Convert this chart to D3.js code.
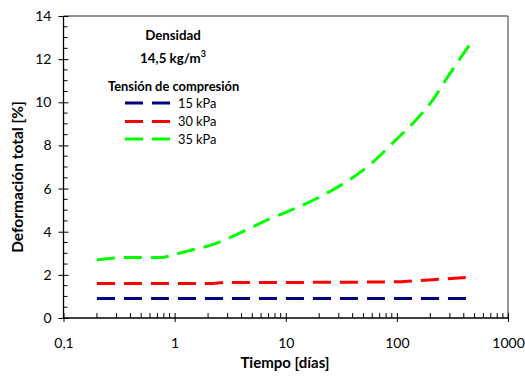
<!DOCTYPE html>
<html><head><meta charset="utf-8">
<script src="https://cdn.jsdelivr.net/npm/d3@7"></script>
<style>body{margin:0;background:#fff}svg{display:block}text{font-family:Lato,"Open Sans",sans-serif;fill:#000}</style>
</head><body><svg id="c" width="525" height="379"></svg>
<script>
const xTickValues = [0.1, 1, 10, 100, 1000];
const xTickLabels = ["0,1", "1", "10", "100", "1000"];
const yTickValues = [0, 2, 4, 6, 8, 10, 12, 14];

const seriesNames = ["15 kPa", "30 kPa", "35 kPa"];
const seriesColors = ["#000080", "#ff0000", "#00ff00"];

const t15 = [0.2, 1, 10, 100, 480];
const v15 = [0.9, 0.9, 0.9, 0.9, 0.9];

const t30 = [0.2, 1, 2, 3, 10, 100, 140, 250, 500];
const v30 = [1.6, 1.6, 1.6, 1.65, 1.65, 1.68, 1.72, 1.8, 1.9];

const t35 = [0.2, 0.35, 0.75, 1, 1.3, 2.2, 4.5, 7.2, 10, 20, 57, 100, 150, 210, 280, 470];
const v35 = [2.7, 2.8, 2.8, 2.95, 3.1, 3.4, 4.1, 4.6, 4.9, 5.6, 7.1, 8.3, 9.2, 10.1, 11.1, 12.8];

const svg = d3.select("#c");
const L = 63.5, R = 508, T = 16, B = 318;
const x = d3.scaleLog().domain([0.1, 1000]).range([L, R]);
const y = d3.scaleLinear().domain([0, 14]).range([B, T]);

// border top/right
svg.append("line").attr("x1", L).attr("x2", R).attr("y1", T).attr("y2", T).attr("stroke", "#222").attr("stroke-width", 1);
svg.append("line").attr("x1", R).attr("x2", R).attr("y1", T).attr("y2", B).attr("stroke", "#777").attr("stroke-width", 1.5);

// minor ticks
const yMinor = d3.range(0, 14.01, 0.5).filter(v => v % 2 !== 0);
svg.append("g").selectAll("line").data(yMinor).join("line")
  .attr("x1", L).attr("x2", L + 4).attr("y1", d => y(d)).attr("y2", d => y(d)).attr("stroke", "#000");
const xMinor = [];
[0.1, 1, 10, 100].forEach(dc => { for (let k = 2; k <= 9; k++) xMinor.push(dc * k); });
svg.append("g").selectAll("line").data(xMinor).join("line")
  .attr("x1", d => x(d)).attr("x2", d => x(d)).attr("y1", B).attr("y2", B - 5).attr("stroke", "#000");

// y axis
const ya = svg.append("g").attr("transform", `translate(${L},0)`)
  .call(d3.axisLeft(y).tickValues(yTickValues).tickSize(5).tickPadding(7).tickFormat(d3.format("d")));
ya.selectAll(".tick line").attr("x2", -5).attr("x1", 5);
ya.select(".domain").attr("d", `M0,${T}V${B}`);
ya.selectAll("text").attr("x", -12).style("font-size", "14px");

// x axis
const xa = svg.append("g").attr("transform", `translate(0,${B})`)
  .call(d3.axisBottom(x).tickValues(xTickValues).tickSize(4).tickFormat((d, i) => xTickLabels[i]));
xa.selectAll(".tick line").attr("y1", -5).attr("y2", 4);
xa.select(".domain").attr("d", `M${L},0H${R}`);
xa.selectAll("text").attr("y", 30).attr("dy", 0).style("font-size", "14px");
svg.selectAll(".domain").attr("stroke", "#000").attr("stroke-width", 1.3);

// titles
svg.append("text").attr("x", 285).attr("y", 368).attr("text-anchor", "middle")
  .style("font-weight", "bold").style("font-size", "15px").text("Tiempo [días]");
svg.append("text").attr("transform", "translate(23,177) rotate(-90)").attr("text-anchor", "middle")
  .style("font-weight", "bold").style("font-size", "15.5px").text("Deformación total [%]");

// lines
const line = d3.line().x(d => x(d[0])).y(d => y(d[1])).curve(d3.curveMonotoneX);
const allSeries = [d3.zip(t15, v15), d3.zip(t30, v30), d3.zip(t35, v35)];
allSeries.forEach((s, i) => {
  svg.append("path").attr("d", line(s)).attr("fill", "none").attr("stroke", seriesColors[i])
    .attr("stroke-width", 3).attr("stroke-dasharray", "18,9");
});

// legend
svg.append("text").attr("x", 173).attr("y", 40).attr("text-anchor", "middle")
  .style("font-weight", "bold").style("font-size", "13.3px").text("Densidad");
const t2 = svg.append("text").attr("x", 173).attr("y", 63).attr("text-anchor", "middle")
  .style("font-weight", "bold").style("font-size", "13.3px");
t2.append("tspan").text("14,5 kg/m");
t2.append("tspan").attr("dy", -6).style("font-size", "9px").text("3");
svg.append("text").attr("x", 108).attr("y", 90.5)
  .style("font-weight", "bold").style("font-size", "12.9px").text("Tensión de compresión");
const ly = [103, 121.5, 139];
seriesNames.forEach((n, i) => {
  svg.append("line").attr("x1", 125).attr("x2", 170).attr("y1", ly[i]).attr("y2", ly[i])
    .attr("stroke", seriesColors[i]).attr("stroke-width", 3).attr("stroke-dasharray", "18,9");
  svg.append("text").attr("x", 178).attr("y", ly[i] + 4.5).style("font-size", "12.8px").text(n);
});
</script></body></html>
